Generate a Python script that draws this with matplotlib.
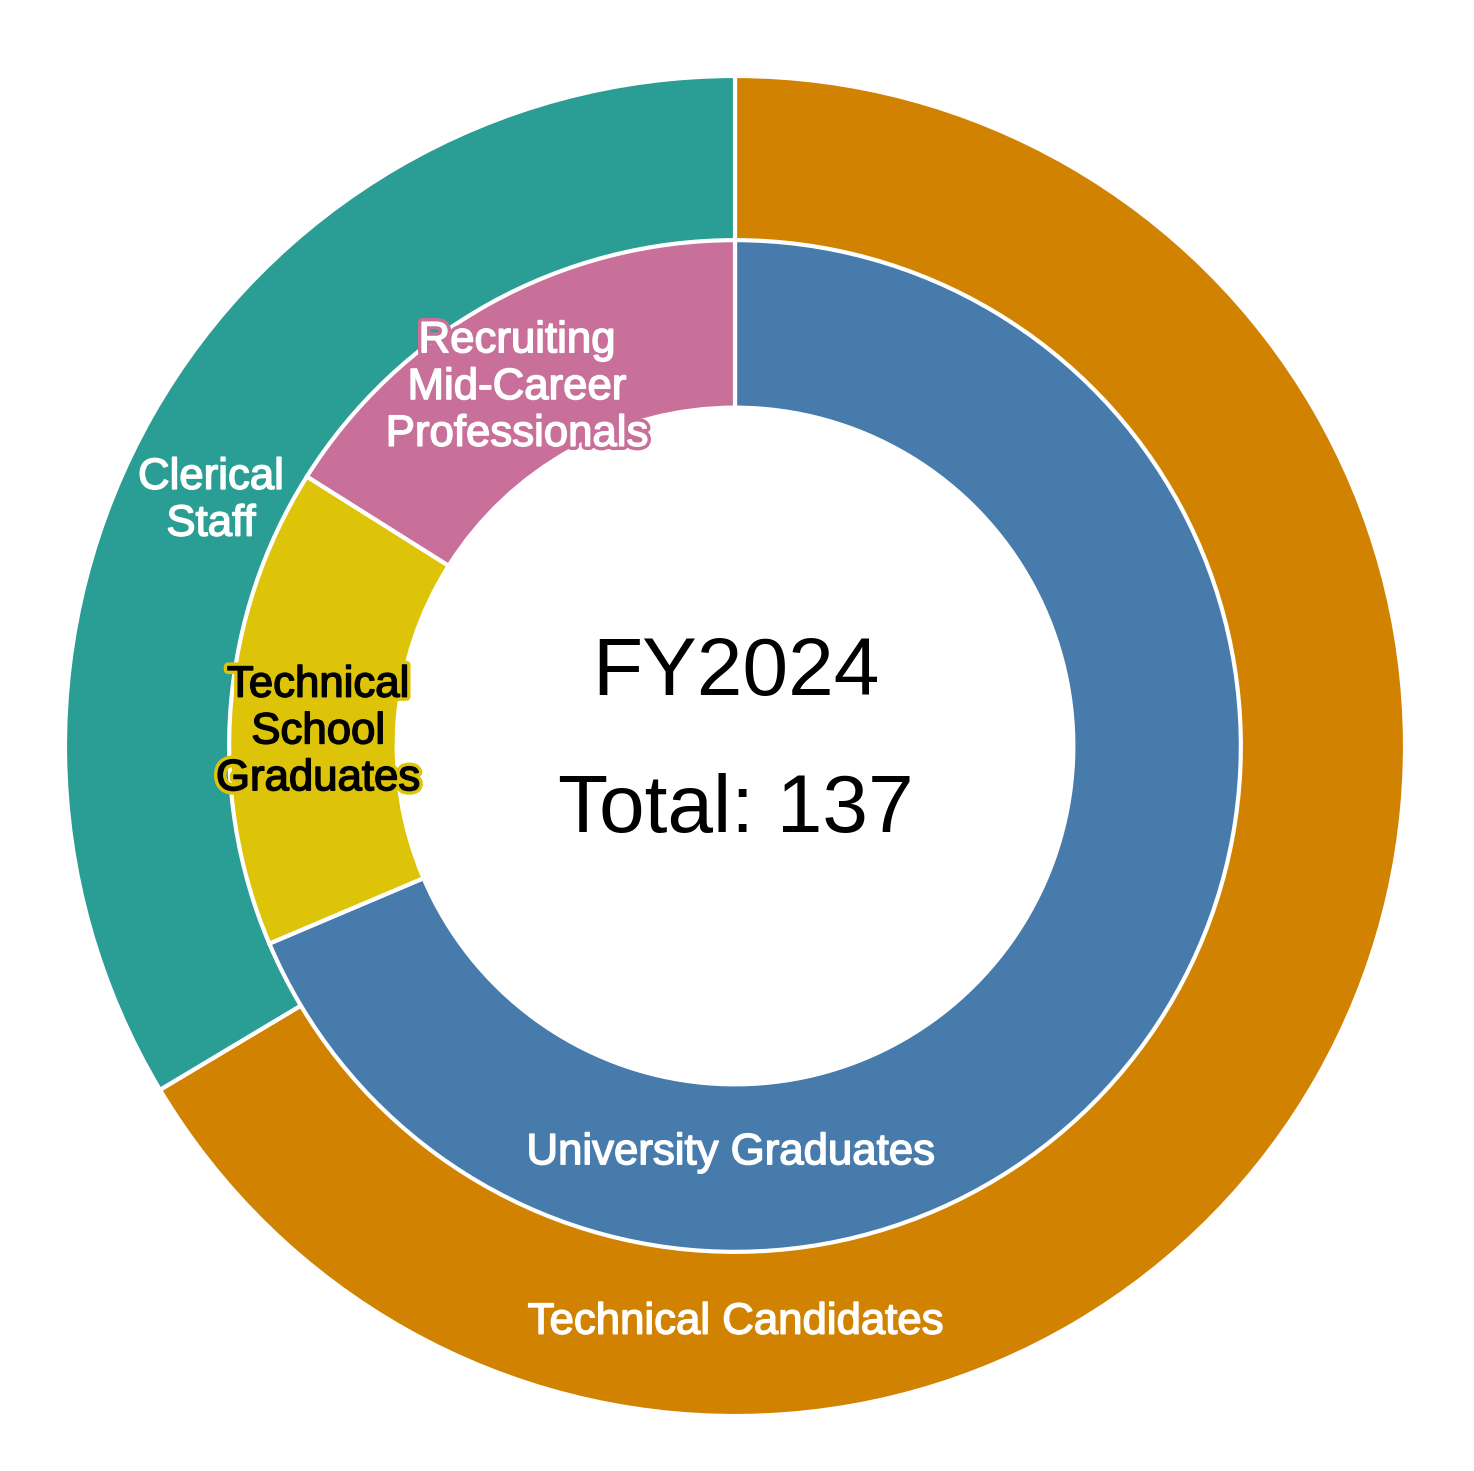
import matplotlib.pyplot as plt
import matplotlib.patheffects as pe

# outer ring: job categories
outer_labels = ['Technical Candidates', 'Clerical\nStaff']
outer_values = [91, 46]
outer_colors = ['#d08200', '#2a9d94']

# inner ring: hiring channels
inner_labels = ['University Graduates', 'Technical\nSchool\nGraduates',
                'Recruiting\nMid-Career\nProfessionals']
inner_values = [94, 21, 22]
inner_colors = ['#467bab', '#dec408', '#c8709a']

year_label = 'FY2024'
total = sum(outer_values)

plt.rcParams['font.family'] = ['Liberation Sans', 'DejaVu Sans']

fig = plt.figure(figsize=(14.74, 14.71), dpi=100)
ax = fig.add_axes([0, 0, 1, 1])

ring_w = 0.25
ax.pie(outer_values, radius=1.0, colors=outer_colors, startangle=90,
       counterclock=False,
       wedgeprops=dict(width=ring_w, edgecolor='white', linewidth=3))
ax.pie(inner_values, radius=0.755, colors=inner_colors, startangle=90,
       counterclock=False,
       wedgeprops=dict(width=ring_w, edgecolor='white', linewidth=3))

# map data units to pixels: centre at (735, 746), 670 px per unit
ax.set_aspect('auto')
ax.set_xlim(-735 / 670, (1474 - 735) / 670)
ax.set_ylim((746 - 1471) / 670, 746 / 670)
ax.axis('off')

fs = 31.5
ls = 1.18


def label(x, y, s, fg, bg=None):
    # thin stroke in the text colour gives a medium weight look
    effects = []
    if bg is not None:
        effects.append(pe.Stroke(linewidth=6, foreground=bg))
    effects += [pe.Stroke(linewidth=1.1, foreground=fg), pe.Normal()]
    ax.text(x, y, s, ha='center', va='center', fontsize=fs, color=fg,
            linespacing=ls, path_effects=effects)


label(-0.006, -0.607, inner_labels[0], 'white')
label(-0.622, 0.021, inner_labels[1], 'black', inner_colors[1])
label(-0.325, 0.535, inner_labels[2], 'white', inner_colors[2])
label(0.0015, -0.860, outer_labels[0], 'white')
label(-0.782, 0.366, outer_labels[1], 'white')

ax.text(0.0015, 0.107, year_label, ha='center', va='center',
        fontsize=59, color='black')
ax.text(0.0015, -0.097, f'Total: {total}', ha='center', va='center',
        fontsize=59, color='black')

fig.savefig('out.png', dpi=100, facecolor='white')
